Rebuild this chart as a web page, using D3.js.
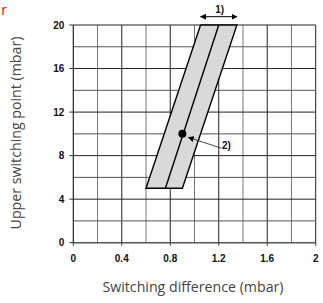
<!DOCTYPE html>
<html>
<head>
<meta charset="utf-8">
<script src="https://cdn.jsdelivr.net/npm/d3@7"></script>
<style>
  body { margin: 0; background: #fff; }
  svg { display: block; }
  .tick-label { font-family: "Liberation Sans", Arial, sans-serif; font-weight: bold; font-size: 10px; fill: #111; }
  .title { font-family: "Open Sans", "Noto Sans", sans-serif; font-size: 14.2px; fill: #444; }
</style>
</head>
<body>
<div id="chart"></div>
<script>
// values
const xTicks = [0, 0.4, 0.8, 1.2, 1.6, 2];
const yTicks = [0, 4, 8, 12, 16, 20];
const xGrid = [0.2, 0.4, 0.6, 0.8, 1.0, 1.2, 1.4, 1.6, 1.8, 2.0];
const yGrid = [2, 4, 6, 8, 10, 12, 14, 16, 18, 20];
const bandY = [5, 20];            // bottom and top of the band (mbar)
const bandBottom = [0.6, 0.76, 0.9]; // left, middle, right at bottom
const bandTop = [1.05, 1.2, 1.35];   // left, middle, right at top
const setPoint = [0.9, 10];
const note1 = "1)";
const note2 = "2)";

const W = 323, H = 303;
const margin = { top: 25, right: 7.3, bottom: 60.3, left: 73.3 };

const svg = d3.select("#chart").append("svg")
    .attr("width", W)
    .attr("height", H);

const x = d3.scaleLinear().domain([0, 2]).range([margin.left, W - margin.right]);
const y = d3.scaleLinear().domain([0, 20]).range([H - margin.bottom, margin.top]);

const defs = svg.append("defs");
["start", "end"].forEach(k => {
    defs.append("marker")
        .attr("id", "arr-" + k)
        .attr("viewBox", "0 0 10 10")
        .attr("refX", k == "end" ? 9 : 1).attr("refY", 5)
        .attr("markerWidth", 6).attr("markerHeight", 6)
        .attr("markerUnits", "userSpaceOnUse")
        .attr("orient", "auto")
        .append("path")
        .attr("d", k == "end" ? "M0,0 L10,5 L0,10 Z" : "M10,0 L0,5 L10,10 Z")
        .attr("fill", "#000");
});

// grid
svg.append("g").selectAll("line")
    .data(xGrid).enter().append("line")
    .attr("x1", d => x(d)).attr("x2", d => x(d))
    .attr("y1", y(0)).attr("y2", y(20))
    .attr("stroke", (d, i) => i % 2 == 0 ? "#777" : "#222")
    .attr("stroke-width", 1);

svg.append("g").selectAll("line")
    .data(yGrid).enter().append("line")
    .attr("x1", x(0)).attr("x2", x(2))
    .attr("y1", d => y(d)).attr("y2", d => y(d))
    .attr("stroke", (d, i) => i % 2 == 0 ? "#555" : "#222")
    .attr("stroke-width", 1);

// axes
svg.append("line")
    .attr("x1", x(0)).attr("x2", x(0))
    .attr("y1", y(0)).attr("y2", y(20))
    .attr("stroke", "#222").attr("stroke-width", 1.2);
svg.append("line")
    .attr("x1", x(0)).attr("x2", x(2))
    .attr("y1", y(0)).attr("y2", y(0))
    .attr("stroke", "#555").attr("stroke-width", 1.6);

// tick marks
svg.append("g").selectAll("line")
    .data(xTicks).enter().append("line")
    .attr("x1", d => x(d)).attr("x2", d => x(d))
    .attr("y1", y(0)).attr("y2", y(0) + 3)
    .attr("stroke", "#333");
svg.append("g").selectAll("line")
    .data(yTicks).enter().append("line")
    .attr("x1", x(0) - 4).attr("x2", x(0))
    .attr("y1", d => y(d)).attr("y2", d => y(d))
    .attr("stroke", "#333");

// tick labels
svg.append("g").selectAll("text")
    .data(xTicks).enter().append("text")
    .attr("class", "tick-label")
    .attr("x", d => x(d)).attr("y", y(0) + 19)
    .attr("text-anchor", "middle")
    .text(d => d3.format("")(d));
svg.append("g").selectAll("text")
    .data(yTicks).enter().append("text")
    .attr("class", "tick-label")
    .attr("x", x(0) - 9).attr("y", d => y(d))
    .attr("dy", "0.35em")
    .attr("text-anchor", "end")
    .text(d => d);

// band
const poly = [
    [bandBottom[0], bandY[0]], [bandTop[0], bandY[1]],
    [bandTop[2], bandY[1]], [bandBottom[2], bandY[0]]
];
svg.append("path")
    .attr("d", d3.line().x(d => x(d[0])).y(d => y(d[1]))(poly) + "Z")
    .attr("fill", "#d9d9d9")
    .attr("stroke", "#000")
    .attr("stroke-width", 1.4)
    .attr("stroke-linejoin", "miter");

svg.append("line")
    .attr("x1", x(bandBottom[1])).attr("y1", y(bandY[0]))
    .attr("x2", x(bandTop[1])).attr("y2", y(bandY[1]))
    .attr("stroke", "#000").attr("stroke-width", 1.4);

// set point
svg.append("circle")
    .attr("cx", x(setPoint[0])).attr("cy", y(setPoint[1]))
    .attr("r", 4)
    .attr("fill", "#000");

// note 1: double arrow above band top
svg.append("line")
    .attr("x1", x(bandTop[0])).attr("x2", x(bandTop[2]))
    .attr("y1", 16.7).attr("y2", 16.7)
    .attr("stroke", "#000").attr("stroke-width", 1)
    .attr("marker-start", "url(#arr-start)")
    .attr("marker-end", "url(#arr-end)");
svg.append("text")
    .attr("class", "tick-label")
    .attr("x", x(bandTop[1]) + 1).attr("y", 13)
    .attr("text-anchor", "middle")
    .text(note1);

// note 2: leader to set point
svg.append("line")
    .attr("x1", 221.5).attr("y1", 148.3)
    .attr("x2", x(setPoint[0]) + 6).attr("y2", y(setPoint[1]) + 3.5)
    .attr("stroke", "#333").attr("stroke-width", 0.9)
    .attr("marker-end", "url(#arr-end)");
svg.append("text")
    .attr("class", "tick-label")
    .attr("x", 222).attr("y", 149)
    .text(note2);

// titles
svg.append("text")
    .attr("class", "title")
    .attr("x", 193).attr("y", 292)
    .attr("text-anchor", "middle")
    .text("Switching difference (mbar)");
svg.append("text")
    .attr("class", "title")
    .attr("transform", "translate(21,133) rotate(-90)")
    .attr("text-anchor", "middle")
    .text("Upper switching point (mbar)");

// cut-off red text at top left
svg.append("text")
    .attr("x", 7).attr("y", 15)
    .attr("text-anchor", "end")
    .attr("font-family", "Open Sans, sans-serif")
    .attr("font-size", 14)
    .attr("fill", "#e3051b")
    .text("r");
</script>
</body>
</html>
